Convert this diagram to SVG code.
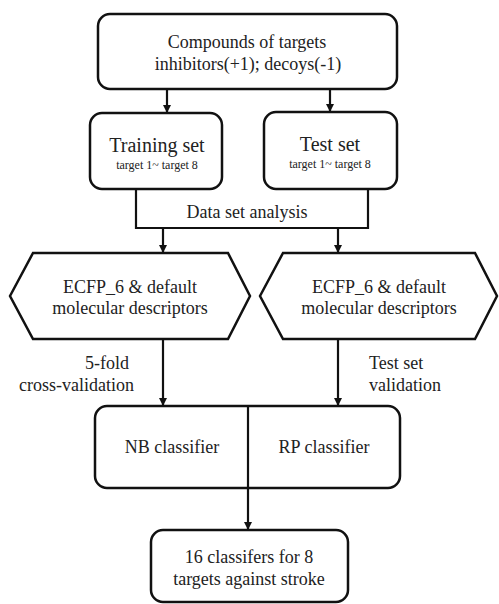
<svg xmlns="http://www.w3.org/2000/svg" width="499" height="604" viewBox="0 0 499 604" font-family="'Liberation Serif', 'DejaVu Serif', serif">
<defs>
<style>
.box{fill:#fff;stroke:#111;stroke-width:2.5}
.ln{fill:none;stroke:#111;stroke-width:2.2}
.t{font-family:'Liberation Serif','DejaVu Serif',serif;fill:#222;text-anchor:middle}
.m{font-size:18px}
.b{font-size:20px}
.s{font-size:12px}
.l{text-anchor:start}
.r{text-anchor:end}
</style>
<marker id="ah" markerWidth="8" markerHeight="8" refX="7" refY="4" orient="auto" markerUnits="userSpaceOnUse">
<path d="M0,0 L8,4 L0,8 Z" fill="#111"/>
</marker>
</defs>
<rect width="499" height="604" fill="#fff"/>
<g id="connectors">
<line class="ln" x1="167" y1="89" x2="167" y2="112" marker-end="url(#ah)"/>
<line class="ln" x1="330" y1="89" x2="330" y2="111" marker-end="url(#ah)"/>
<polyline class="ln" points="136,189 136,228 368,228 368,189"/>
<line class="ln" x1="163" y1="228" x2="163" y2="252" marker-end="url(#ah)"/>
<line class="ln" x1="338" y1="228" x2="338" y2="252" marker-end="url(#ah)"/>
<line class="ln" x1="163" y1="339" x2="163" y2="405" marker-end="url(#ah)"/>
<line class="ln" x1="338" y1="339" x2="338" y2="405" marker-end="url(#ah)"/>
<line class="ln" x1="248" y1="488" x2="248" y2="529" marker-end="url(#ah)"/>
<text class="t m" x="247" y="218">Data set analysis</text>
<text class="t m r" x="129" y="369">5-fold</text>
<text class="t m r" x="134" y="391">cross-validation</text>
<text class="t m l" x="369" y="369">Test set</text>
<text class="t m l" x="369" y="391">validation</text>
</g>
<g id="compounds">
<rect class="box" x="98" y="14" width="299" height="75" rx="12"/>
<text class="t m" x="247" y="48">Compounds of targets</text>
<text class="t m" x="248" y="70">inhibitors(+1); decoys(-1)</text>
</g>
<g id="training">
<rect class="box" x="90" y="113" width="132" height="76" rx="12"/>
<text class="t b" x="157" y="152">Training set</text>
<text class="t s" x="157" y="169">target 1~ target 8</text>
</g>
<g id="test">
<rect class="box" x="264" y="112" width="133" height="77" rx="12"/>
<text class="t b" x="330" y="151">Test set</text>
<text class="t s" x="330" y="168">target 1~ target 8</text>
</g>
<g id="descriptors-left">
<polygon class="box" points="10,296 33,253 228,253 250,296 228,339 33,339"/>
<text class="t m" x="130" y="293">ECFP_6 &amp; default</text>
<text class="t m" x="130" y="314">molecular descriptors</text>
</g>
<g id="descriptors-right">
<polygon class="box" points="260,296 283,253 475,253 497,296 475,339 283,339"/>
<text class="t m" x="379" y="293">ECFP_6 &amp; default</text>
<text class="t m" x="379" y="314">molecular descriptors</text>
</g>
<g id="classifiers">
<rect class="box" x="95" y="406" width="305" height="82" rx="12"/>
<line class="ln" x1="248" y1="406" x2="248" y2="488"/>
<text class="t m" x="172" y="453">NB classifier</text>
<text class="t m" x="324" y="453">RP classifier</text>
</g>
<g id="result">
<rect class="box" x="151" y="530" width="197" height="72" rx="12"/>
<text class="t m" x="249" y="563">16 classifers for 8</text>
<text class="t m" x="249" y="585">targets against stroke</text>
</g>
</svg>
